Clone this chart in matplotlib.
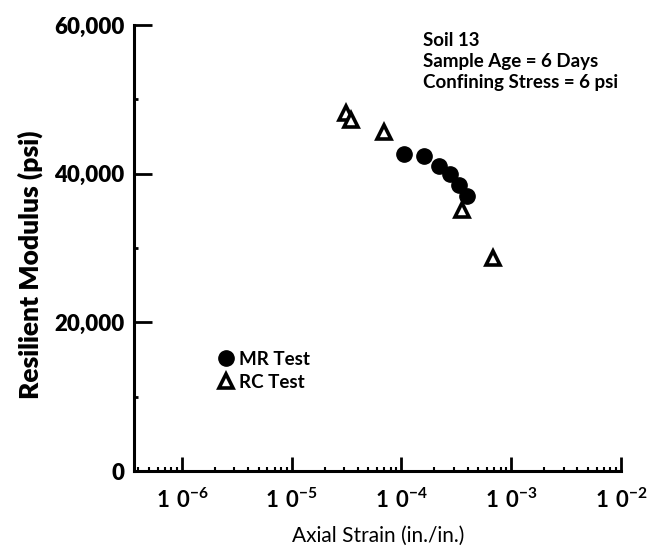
import matplotlib
matplotlib.use("Agg")
import matplotlib.pyplot as plt
from matplotlib.lines import Line2D
from matplotlib.ticker import FixedLocator, FixedFormatter, LogLocator, NullFormatter

plt.rcParams['font.family'] = ['Lato', 'DejaVu Sans']
plt.rcParams['mathtext.fontset'] = 'custom'
plt.rcParams['mathtext.rm'] = 'Lato:bold'
plt.rcParams['mathtext.bf'] = 'Lato:bold'
plt.rcParams['mathtext.default'] = 'rm'

# MR test (filled circles)
mr_strain = [1.065e-4, 1.62e-4, 2.19e-4, 2.78e-4, 3.37e-4, 3.96e-4]
mr_modulus = [42600, 42370, 41020, 39900, 38470, 36990]

# RC test (open triangles)
rc_strain = [3.13e-5, 3.48e-5, 7.0e-5, 3.57e-4, 6.89e-4]
rc_modulus = [48160, 47210, 45600, 35100, 28650]

x_ticks = [1e-6, 1e-5, 1e-4, 1e-3, 1e-2]
x_labels = [r"$1\ 0^{-6}$", r"$1\ 0^{-5}$", r"$1\ 0^{-4}$", r"$1\ 0^{-3}$", r"$1\ 0^{-2}$"]
y_ticks = [0, 20000, 40000, 60000]
y_labels = ["0", "20,000", "40,000", "60,000"]

fig = plt.figure(figsize=(6.57, 5.5), dpi=100)
ax = fig.add_axes([0.2047, 0.1436, 0.7405, 0.811])

ax.plot(mr_strain, mr_modulus, 'o', color='black', markersize=11, zorder=3)
ax.plot(rc_strain, rc_modulus, '^', markerfacecolor='white', markeredgecolor='black',
        markeredgewidth=2.6, markersize=10, zorder=4)

ax.set_xscale('log')
ax.set_xlim(3.7e-7, 1e-2)
ax.set_ylim(0, 60000)

ax.xaxis.set_major_locator(FixedLocator(x_ticks))
ax.xaxis.set_major_formatter(FixedFormatter(x_labels))
ax.xaxis.set_minor_locator(LogLocator(base=10, subs=range(2, 10), numticks=20))
ax.xaxis.set_minor_formatter(NullFormatter())
ax.yaxis.set_major_locator(FixedLocator(y_ticks))
ax.yaxis.set_major_formatter(FixedFormatter(y_labels))
ax.yaxis.set_minor_locator(FixedLocator([10000, 30000, 50000]))

for s in ['top', 'right']:
    ax.spines[s].set_visible(False)
for s in ['left', 'bottom']:
    ax.spines[s].set_linewidth(2.2)

ax.tick_params(axis='y', which='major', direction='in', length=13, width=2, pad=7, labelsize=16)
ax.tick_params(axis='y', which='minor', direction='in', length=3, width=2)
ax.tick_params(axis='x', which='major', direction='in', length=10, width=2, pad=12, labelsize=16)
ax.tick_params(axis='x', which='minor', direction='in', length=3, width=1.5)
for lab in ax.get_yticklabels():
    lab.set_fontweight('heavy')

ax.set_xlabel("Axial Strain (in./in.)", fontsize=15, labelpad=10)
ax.set_ylabel("Resilient Modulus (psi)", fontsize=19, fontweight='heavy')
ax.yaxis.set_label_coords(-0.188, 0.462)

ax.text(0.592, 0.985, "Soil 13\nSample Age = 6 Days\nConfining Stress = 6 psi",
        transform=ax.transAxes, fontsize=13.5, fontweight='bold', va='top', ha='left',
        linespacing=1.3)

handles = [
    Line2D([], [], marker='o', linestyle='none', color='black', markersize=11),
    Line2D([], [], marker='^', linestyle='none', markerfacecolor='white',
           markeredgecolor='black', markeredgewidth=2.6, markersize=10),
]
ax.legend(handles, ["MR Test", "RC Test"], loc='upper left', bbox_to_anchor=(0.132, 0.307),
          frameon=False, handletextpad=0.15, handlelength=1.1, labelspacing=0.3,
          prop={'weight': 'bold', 'size': 13.5})

fig.savefig("out.png", dpi=100)
